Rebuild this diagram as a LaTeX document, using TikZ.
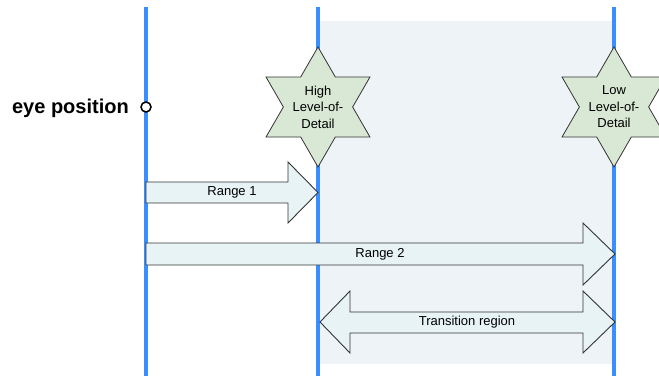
\documentclass[tikz,border=0pt]{standalone}
\usepackage{fontspec}
\setmainfont{Liberation Sans}
\definecolor{lineblue}{HTML}{3A8EFF}
\definecolor{shadebg}{HTML}{EEF3F7}
\definecolor{starfill}{HTML}{D9E8D5}
\definecolor{arrowfill}{HTML}{E8F3F5}
\definecolor{edge}{HTML}{333333}
\begin{document}
\begin{tikzpicture}[x=1pt,y=1pt,
  vline/.style={draw=lineblue,line width=3.3pt},
  starshape/.style={fill=starfill,draw=edge,line width=0.8pt,line join=miter},
  arrowshape/.style={fill=arrowfill,draw=edge,line width=0.9pt,line join=miter},
  lbl/.style={font=\fontsize{13}{16.5}\selectfont,inner sep=0pt,align=center}]
\useasboundingbox (0,0) rectangle (659,376);
% shaded transition area
\fill[fill=shadebg] (318,12) rectangle (612,355);
% vertical lines
\coordinate (l1top) at (146,369); \coordinate (l1bot) at (146,0);
\coordinate (l2top) at (318,369); \coordinate (l2bot) at (318,0);
\coordinate (l3top) at (614,369); \coordinate (l3bot) at (614,0);
\draw[vline] (l1top) -- (l1bot);
\draw[vline] (l2top) -- (l2bot);
\draw[vline] (l3top) -- (l3bot);
% stars
\foreach \cx in {318,614}{
  \begin{scope}[shift={(\cx,269)}]
    \draw[starshape] (90:60) -- (60:34.64) -- (30:60) -- (0:34.64) -- (-30:60) -- (-60:34.64)
      -- (-90:60) -- (-120:34.64) -- (-150:60) -- (180:34.64) -- (150:60) -- (120:34.64) -- cycle;
  \end{scope}
}
\node[lbl] (hightext) at (318,269) {High\\Level-of-\\Detail};
\node[lbl] (lowtext) at (614,269) {Low\\Level-of-\\Detail};
% Range 1 arrow
\draw[arrowshape] (146,194) -- (288,194) -- (288,214) -- (318,183.5) -- (288,153) -- (288,173) -- (146,173) -- cycle;
\node[lbl] (r1) at (232,183.5) {Range 1};
% Range 2 arrow
\draw[arrowshape] (146,133) -- (583,133) -- (583,153) -- (615,122) -- (583,91) -- (583,111) -- (146,111) -- cycle;
\node[lbl] (r2) at (380,122) {Range 2};
% Transition double arrow
\draw[arrowshape] (320,54) -- (350,85) -- (350,64) -- (583,64) -- (583,85) -- (615,54) -- (583,23) -- (583,43) -- (350,43) -- (350,23) -- cycle;
\node[lbl] (tr) at (467,54) {Transition region};
% eye position
\node[circle,draw=black,fill=white,line width=1.5pt,minimum size=10pt,inner sep=0pt] (eye) at (146,269) {};
\node[font=\fontsize{20}{23}\selectfont\bfseries,anchor=base east,inner sep=0pt] (eyetext) at (129,263) {eye position};
\end{tikzpicture}
\end{document}
